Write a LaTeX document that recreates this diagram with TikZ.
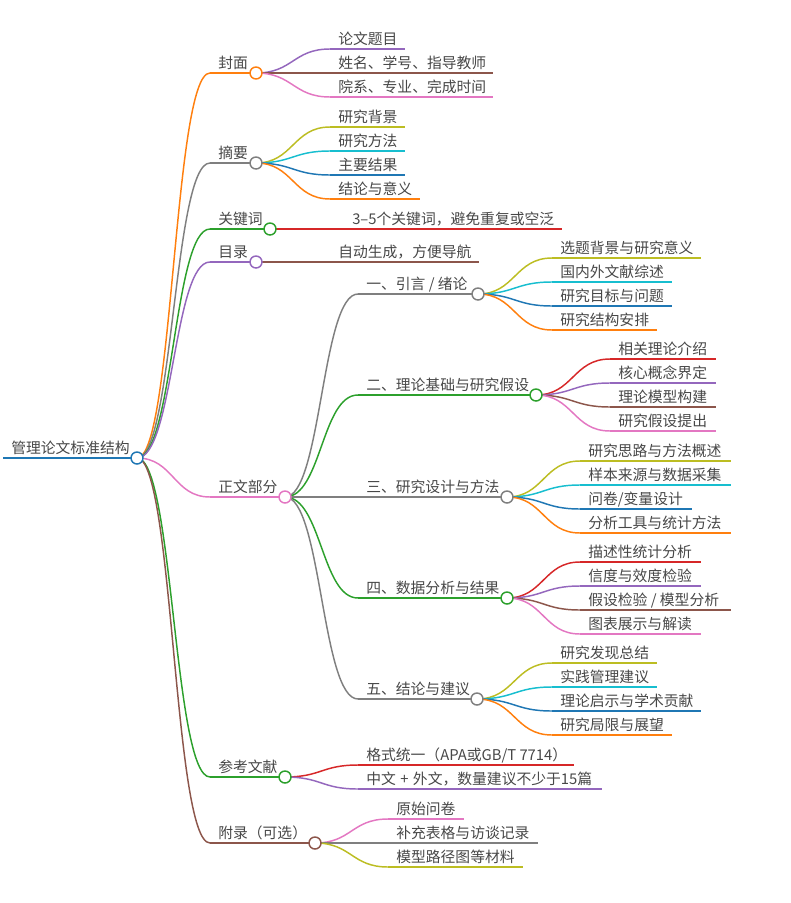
\documentclass[tikz,border=0pt]{standalone}
\usepackage{fontspec}
\setmainfont{Noto Sans CJK SC}
\usetikzlibrary{calc}
\pgfdeclarelayer{bg}
\pgfsetlayers{bg,main}
\definecolor{cblue}{HTML}{1F77B4}
\definecolor{corange}{HTML}{FF7F0E}
\definecolor{cgreen}{HTML}{2CA02C}
\definecolor{cred}{HTML}{D62728}
\definecolor{cpurple}{HTML}{9467BD}
\definecolor{cbrown}{HTML}{8C564B}
\definecolor{cpink}{HTML}{E377C2}
\definecolor{cgray}{HTML}{7F7F7F}
\definecolor{colive}{HTML}{BCBD22}
\definecolor{ccyan}{HTML}{17BECF}
\definecolor{txt}{HTML}{474747}
\tikzset{
  lbl/.style={inner sep=0pt, anchor=base west, font=\fontsize{11.1}{13}\selectfont, text=txt},
  dot/.style={circle, draw=#1, fill=white, line width=1.1pt, minimum size=9pt, inner sep=0pt},
  edgeline/.style={draw=#1, line width=1.1pt},
}
\newcommand\mmlink[3]{%
  \draw[edgeline=#1] let \p1=(#2.center), \p2=(#3) in
    (\p1) .. controls ({(\x1+\x2)/2},\y1) and ({(\x1+\x2)/2},\y2) .. (\p2);}
% name, colour, parent, start x, circle x, y, text
\newcommand\mminner[7]{%
  \coordinate (#1-s) at (#4,#6);
  \node[dot=#2] (#1) at (#5,#6) {};
  \node[lbl] (#1-t) at ([shift={(8,-4.5)}]#1-s) {#7};
  \begin{pgfonlayer}{bg}
    \draw[edgeline=#2] (#1-s) -- (#1.center);
    \mmlink{#2}{#3}{#1-s}
  \end{pgfonlayer}}
% name, colour, parent, start x, end x, y, text
\newcommand\mmleaf[7]{%
  \coordinate (#1-s) at (#4,#6);
  \coordinate (#1-e) at (#5,#6);
  \node[lbl] (#1) at ([shift={(8,-4.5)}]#1-s) {#7};
  \begin{pgfonlayer}{bg}
    \draw[edgeline=#2] (#1-s) -- (#1-e);
    \mmlink{#2}{#3}{#1-s}
  \end{pgfonlayer}}
\begin{document}
\begin{tikzpicture}[x=0.75pt,y=-0.75pt]
\useasboundingbox (0,0) rectangle (791,903);
% root
\coordinate (root-s) at (3,458);
\node[dot=cblue] (root) at (137,458) {};
\node[lbl] (root-t) at ([shift={(8,-4.5)}]root-s) {管理论文标准结构};
\begin{pgfonlayer}{bg}
  \draw[cblue, line width=1.6pt] (root-s) -- (root.center);
\end{pgfonlayer}
% level 1
\mminner{A}{corange}{root}{210}{256}{73}{封面}
\mminner{B}{cgray}{root}{210}{256}{163}{摘要}
\mminner{C}{cgreen}{root}{210}{270}{229}{关键词}
\mminner{D}{cpurple}{root}{210}{256}{262}{目录}
\mminner{E}{cpink}{root}{210}{285}{497}{正文部分}
\mminner{F}{cgreen}{root}{210}{285}{777}{参考文献}
\mminner{G}{cbrown}{root}{210}{315}{843}{附录（可选）}
% 封面
\mmleaf{A1}{cpurple}{A}{330}{405}{49}{论文题目}
\mmleaf{A2}{cbrown}{A}{330}{493}{73}{姓名、学号、指导教师}
\mmleaf{A3}{cpink}{A}{330}{493}{97}{院系、专业、完成时间}
% 摘要
\mmleaf{B1}{colive}{B}{330}{405}{127}{研究背景}
\mmleaf{B2}{ccyan}{B}{330}{405}{151}{研究方法}
\mmleaf{B3}{cblue}{B}{330}{405}{175}{主要结果}
\mmleaf{B4}{corange}{B}{330}{420}{199}{结论与意义}
% 关键词
\mmleaf{C1}{cred}{C}{344}{562}{229}{3–5个关键词，避免重复或空泛}
% 目录
\mmleaf{D1}{cbrown}{D}{330}{479}{262}{自动生成，方便导航}
% 正文部分
\mminner{E1}{cgray}{E}{358}{478}{294}{一、引言 / 绪论}
\mminner{E2}{cgreen}{E}{358}{536}{395}{二、理论基础与研究假设}
\mminner{E3}{cgray}{E}{358}{507}{497}{三、研究设计与方法}
\mminner{E4}{cgreen}{E}{358}{507}{598}{四、数据分析与结果}
\mminner{E5}{cgray}{E}{358}{477}{699}{五、结论与建议}
\mmleaf{E11}{colive}{E1}{552}{701}{258}{选题背景与研究意义}
\mmleaf{E12}{ccyan}{E1}{552}{672}{282}{国内外文献综述}
\mmleaf{E13}{cblue}{E1}{552}{672}{306}{研究目标与问题}
\mmleaf{E14}{corange}{E1}{552}{657}{330}{研究结构安排}
\mmleaf{E21}{cred}{E2}{610}{716}{359}{相关理论介绍}
\mmleaf{E22}{cpurple}{E2}{610}{716}{383}{核心概念界定}
\mmleaf{E23}{cbrown}{E2}{610}{716}{407}{理论模型构建}
\mmleaf{E24}{cpink}{E2}{610}{716}{431}{研究假设提出}
\mmleaf{E31}{colive}{E3}{580}{731}{461}{研究思路与方法概述}
\mmleaf{E32}{ccyan}{E3}{580}{731}{485}{样本来源与数据采集}
\mmleaf{E33}{cblue}{E3}{580}{692}{509}{问卷/变量设计}
\mmleaf{E34}{corange}{E3}{580}{731}{533}{分析工具与统计方法}
\mmleaf{E41}{cred}{E4}{580}{701}{562}{描述性统计分析}
\mmleaf{E42}{cpurple}{E4}{580}{701}{586}{信度与效度检验}
\mmleaf{E43}{cbrown}{E4}{580}{731}{610}{假设检验 / 模型分析}
\mmleaf{E44}{cpink}{E4}{580}{701}{634}{图表展示与解读}
\mmleaf{E51}{colive}{E5}{552}{657}{663}{研究发现总结}
\mmleaf{E52}{ccyan}{E5}{552}{657}{687}{实践管理建议}
\mmleaf{E53}{cblue}{E5}{552}{701}{711}{理论启示与学术贡献}
\mmleaf{E54}{corange}{E5}{552}{672}{735}{研究局限与展望}
% 参考文献
\mmleaf{F1}{cred}{F}{358}{574}{765}{格式统一（APA或GB/T 7714）}
\mmleaf{F2}{cpurple}{F}{358}{602}{789}{中文\hspace{0.3em}+\hspace{0.3em}外文，数量建议不少于15篇}
% 附录
\mmleaf{G1}{cpink}{G}{388}{464}{819}{原始问卷}
\mmleaf{G2}{cgray}{G}{388}{538}{843}{补充表格与访谈记录}
\mmleaf{G3}{colive}{G}{388}{523}{867}{模型路径图等材料}
\end{tikzpicture}
\end{document}
